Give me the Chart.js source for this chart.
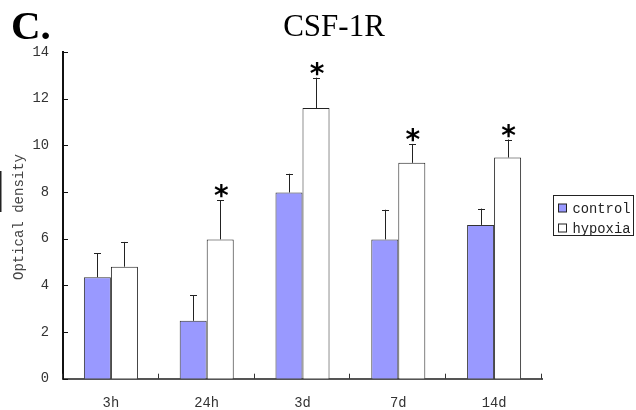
<!DOCTYPE html>
<html>
<head>
<meta charset="utf-8">
<script src="https://cdn.jsdelivr.net/npm/chart.js@4/dist/chart.umd.min.js"></script>
<style>
html,body{margin:0;padding:0;background:#fff;}
#wrap{width:636px;height:410px;position:relative;}
</style>
</head>
<body>
<div id="wrap"><canvas id="c" width="636" height="410"></canvas></div>
<script>
const categories = ['3h', '24h', '3d', '7d', '14d'];
const seriesNames = ['control', 'hypoxia'];
const controlMeans = [4.35, 2.48, 7.98, 5.97, 6.59];
const controlSD = [1.02, 1.09, 0.80, 1.27, 0.70];
const hypoxiaMeans = [4.80, 5.97, 11.60, 9.25, 9.48];
const hypoxiaSD = [1.06, 1.68, 1.30, 0.81, 0.77];
const significant = [false, true, true, true, true];
const titleText = 'CSF-1R';
const panelLabel = 'C.';
const yTitle = 'Optical density';

const MONO = '"Liberation Mono", "DejaVu Sans Mono", monospace';
const SERIF = '"Liberation Serif", "Times New Roman", serif';

const errors = [controlSD, hypoxiaSD];

const decor = {
  id: 'decor',
  afterDatasetsDraw(chart) {
    const ctx = chart.ctx;
    const ys = chart.scales.y;
    const xs = chart.scales.x;
    const ca = chart.chartArea;
    ctx.save();
    chart.data.datasets.forEach((ds, di) => {
      const meta = chart.getDatasetMeta(di);
      meta.data.forEach((bar, i) => {
        const top = ys.getPixelForValue(ds.data[i] + errors[di][i]);
        const yb = ys.getPixelForValue(ds.data[i]);
        ctx.strokeStyle = '#222';
        ctx.lineWidth = 1;
        ctx.beginPath();
        ctx.moveTo(Math.round(bar.x) + 0.5, yb);
        ctx.lineTo(Math.round(bar.x) + 0.5, top);
        ctx.moveTo(Math.round(bar.x) - 3, Math.round(top) + 0.5);
        ctx.lineTo(Math.round(bar.x) + 4, Math.round(top) + 0.5);
        ctx.stroke();
        if (di === 1 && significant[i]) {
          ctx.font = 'bold 28px "DejaVu Sans", sans-serif';
          ctx.fillStyle = '#000';
          ctx.textAlign = 'center';
          ctx.textBaseline = 'alphabetic';
          const m = ctx.measureText('*');
          const bottomTarget = top - 2;
          ctx.fillText('*', bar.x + 1, bottomTarget - m.actualBoundingBoxDescent);
        }
      });
    });
    ctx.strokeStyle = '#111';
    ctx.lineWidth = 1;
    ys.ticks.forEach(t => {
      const py = Math.round(ys.getPixelForValue(t.value)) + 0.5;
      ctx.beginPath();
      ctx.moveTo(ca.left, py);
      ctx.lineTo(ca.left + 5, py);
      ctx.stroke();
    });
    ctx.strokeStyle = '#333';
    for (let i = 0; i <= categories.length; i++) {
      const px = i < categories.length
        ? xs.getPixelForValue(i) - (xs.getPixelForValue(1) - xs.getPixelForValue(0)) / 2
        : ca.right;
      const rx = Math.round(px) - 0.5;
      ctx.beginPath();
      ctx.moveTo(rx, ca.bottom);
      ctx.lineTo(rx, ca.bottom - 5);
      ctx.stroke();
    }
    ctx.restore();
  },
  afterDraw(chart) {
    const ctx = chart.ctx;
    const ca = chart.chartArea;
    ctx.save();
    ctx.fillStyle = '#000';
    ctx.textBaseline = 'alphabetic';
    ctx.textAlign = 'left';
    ctx.font = 'bold 41px ' + SERIF;
    ctx.fillText(panelLabel, 11, 39);
    ctx.font = '31px ' + SERIF;
    ctx.textAlign = 'center';
    ctx.fillText(titleText, 334, 36);
    ctx.save();
    ctx.translate(19, 217);
    ctx.rotate(-Math.PI / 2);
    ctx.font = '14px ' + MONO;
    ctx.fillStyle = '#444';
    ctx.textAlign = 'center';
    ctx.textBaseline = 'middle';
    ctx.fillText(yTitle, 0, 0);
    ctx.restore();
    ctx.fillStyle = '#222';
    ctx.fillRect(0, 171, 1.5, 41);
    const lx = ca.right + 11.5, lw = 80, lh = 40;
    const ly = Math.round((ca.top + ca.bottom) / 2 - lh / 2) + 0.5;
    ctx.strokeStyle = '#222';
    ctx.lineWidth = 1;
    ctx.strokeRect(lx, ly, lw, lh);
    ctx.font = '13.8px ' + MONO;
    ctx.textAlign = 'left';
    ctx.textBaseline = 'middle';
    chart.data.datasets.forEach((ds, i) => {
      const cy = ly + 12.5 + i * 20;
      ctx.fillStyle = ds.backgroundColor;
      ctx.fillRect(lx + 5, cy - 4, 8, 8);
      ctx.strokeStyle = '#222';
      ctx.strokeRect(lx + 5, cy - 4, 8, 8);
      ctx.fillStyle = '#222';
      ctx.fillText(ds.label, lx + 19, cy + 1);
    });
    ctx.restore();
  }
};

new Chart(document.getElementById('c'), {
  type: 'bar',
  data: {
    labels: categories,
    datasets: [
      { label: seriesNames[0], data: controlMeans, backgroundColor: '#9999FF', borderColor: '#333', borderWidth: 1 },
      { label: seriesNames[1], data: hypoxiaMeans, backgroundColor: '#FFFFFF', borderColor: '#222', borderWidth: 1 }
    ]
  },
  options: {
    responsive: false,
    animation: false,
    devicePixelRatio: 1,
    layout: { padding: { top: 52, right: 94, bottom: 0, left: 0 } },
    datasets: { bar: { categoryPercentage: 0.564, barPercentage: 1.0 } },
    plugins: { legend: { display: false }, tooltip: { enabled: false }, title: { display: false } },
    scales: {
      x: {
        grid: { display: false },
        border: { display: true, color: '#555', width: 2 },
        ticks: { font: { family: MONO, size: 13.8 }, color: '#333', padding: 8 },
        afterFit(s) { s.height = 31.3; }
      },
      y: {
        min: 0, max: 14,
        grid: { display: false },
        border: { display: true, color: '#111', width: 2 },
        ticks: { stepSize: 2, font: { family: MONO, size: 13.8 }, color: '#333', padding: 6 },
        afterFit(s) { s.width = 63; }
      }
    }
  },
  plugins: [decor]
});
</script>
</body>
</html>
